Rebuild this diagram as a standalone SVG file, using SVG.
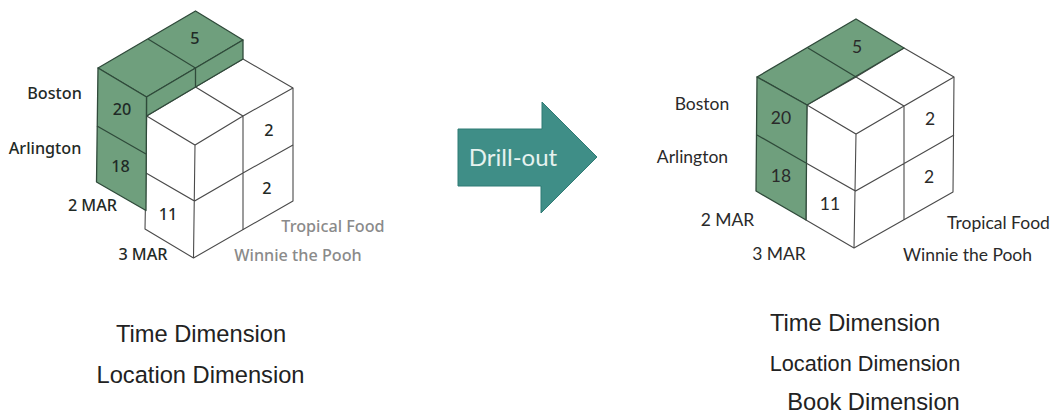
<svg xmlns="http://www.w3.org/2000/svg" width="1052" height="414" viewBox="0 0 1052 414">
<style>
.g{fill:#6f9f7d;stroke:#2f4a3a;stroke-width:1.3;stroke-linejoin:round}
.w{fill:#fff;stroke:#4a4a4a;stroke-width:1.1;stroke-linejoin:round}
.n{fill:none;stroke:#4a4a4a;stroke-width:1.1}
.dk{fill:none;stroke:#2f4a3a;stroke-width:1.3}
text{font-family:"Noto Sans","Open Sans",sans-serif;fill:#1f2a26}
.l{font-size:16.200px;text-anchor:middle;font-weight:500}
.r{font-family:Lato,"Open Sans",sans-serif;font-size:17.500px;text-anchor:middle;fill:#2a2a2a}
.gr{fill:#8a8a8a}
.d{font-family:"Liberation Sans",Arial,sans-serif;font-size:23.700px;text-anchor:middle;fill:#222}
.d2{font-size:21.700px}
</style>
<rect width="1052" height="414" fill="#fff"/>
<g id="cube-left">
<g id="left-white">
<polygon class="w" points="146.7,116 195.5,87 243,59 293,88 293,201 193.5,258 145,229 146,173"/>
<path class="n" d="M146.7,116L195,145L243,116M195.5,87L243,116L293,88M243,116V230M146,173L194.5,201L243,173L293,145M195,145L193.5,258"/>
</g>
<g id="left-green">
<polygon class="g" points="98,68 195.5,11 243,40 146.5,97"/>
<polygon class="g" points="146.5,97 243,40 243,59 195.5,87 146.5,116"/>
<polygon class="g" points="98,68 146.5,97 146,210.500 96.500,182"/>
<path class="dk" d="M148,39L195.500,68V87M97,126L146,154"/>
</g>
<g id="left-labels">
<text class="l" x="195" y="44">5</text><text class="l" x="122" y="115">20</text><text class="l" x="120.500" y="172">18</text>
<text class="l" x="168" y="220">11</text><text class="l" x="269" y="136">2</text><text class="l" x="267" y="194">2</text>
<text class="l" x="54.500" y="99">Boston</text><text class="l" x="45" y="154">Arlington</text><text class="l" x="92.500" y="211">2 MAR</text><text class="l" x="143" y="260">3 MAR</text>
<text class="l gr" x="333" y="232">Tropical Food</text><text class="l gr" x="298" y="261">Winnie the Pooh</text>
</g>
</g>
<g id="arrow">
<polygon points="458,129 542,129 542,102 597,157 541,213 541,186 458,186" fill="#3f8e87" stroke="#2f7a74" stroke-width="1"/>
<text x="513" y="166" font-size="24" text-anchor="middle" style="font-family:Lato,'Open Sans',sans-serif;fill:#e6f2ef">Drill-out</text>
</g>
<g id="cube-right">
<g id="right-white">
<polygon class="w" points="807,105 856,77 904,48 954,77 953,192 854,248 806,220 806,163"/>
<path class="n" d="M807,105L856,134L904,106M856,77L904,106L954,77M904,106L904,220M806,163L855.500,191L905,163L954,135M856,134L854,248"/>
</g>
<g id="right-green">
<polygon class="g" points="757,77 856,19 904,48 807,105"/>
<polygon class="g" points="757,77 807,105 806,220 756,191"/>
<path class="dk" d="M808,48L856,77M757,135L806,163"/>
</g>
<g id="right-labels">
<text class="r" x="857" y="53">5</text><text class="r" x="781" y="124">20</text><text class="r" x="781" y="182">18</text>
<text class="r" x="830" y="210">11</text><text class="r" x="930" y="125">2</text><text class="r" x="929" y="183">2</text>
<text class="r" x="702" y="110">Boston</text><text class="r" x="692.500" y="163">Arlington</text><text class="r" x="727.500" y="226">2 MAR</text><text class="r" x="779" y="260">3 MAR</text>
<text class="r" x="998.500" y="229">Tropical Food</text><text class="r" x="967.500" y="261">Winnie the Pooh</text>
</g>
</g>
<g id="captions">
<text class="d" x="201" y="342">Time Dimension</text><text class="d" x="200.500" y="383">Location Dimension</text>
<text class="d" x="855" y="331">Time Dimension</text><text class="d d2" x="865" y="371">Location Dimension</text><text class="d" x="873.500" y="410">Book Dimension</text>
</g>
</svg>
